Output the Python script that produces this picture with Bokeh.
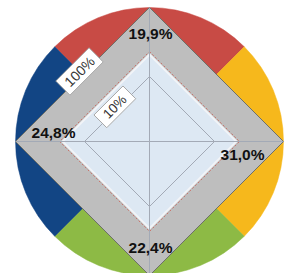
import math
from bokeh.plotting import figure
from bokeh.core.properties import value
from bokeh.embed import file_html
from bokeh.resources import INLINE

# ---- data ----
axis_angles_deg = [90, 0, 270, 180]          # top, right, bottom, left
shares = [19.9, 31.0, 22.4, 24.8]            # percent per axis
sector_colors = ["#C84B45", "#F6B81C", "#8DBA45", "#124584"]
scale_levels = [100, 10]                     # reference rings
scale_labels = ["100%", "10%"]

# ---- layout / style (not data) ----
R = 134.0                  # outer radius in px
ring_radius = {100: 134.0, 10: 65.0}
band_radius = 87.0         # light blue inner area
dash_radius = 90.0
label_radius = [108, 93, 106, 96]
label_dy = [0, -13, 0, 9]
label_dx = [1, 0, 1, 0]
scale_label_dist = {100: 99.0, 10: 49.0}
scale_box = {100: (47, 20), 10: (41, 18)}
scale_font = {100: "14px", 10: "13.5px"}

W, H = 287, 273
cx, cy = 149, 141   # center in canvas pixels
p = figure(width=W, height=H, output_backend="svg", toolbar_location=None,
           x_range=(-cx, W - cx), y_range=(-(H - cy), cy),
           min_border=0, outline_line_color=None,
           background_fill_color="white", border_fill_color="white")
p.axis.visible = False
p.grid.visible = False

# colored sectors
for a, col in zip(axis_angles_deg, sector_colors):
    p.wedge(x=0, y=0, radius=R,
            start_angle=math.radians(a - 45), end_angle=math.radians(a + 45),
            fill_color=col, line_color=col, line_width=0.5)

def diamond(r):
    xs = [r * math.cos(math.radians(a)) for a in axis_angles_deg]
    ys = [r * math.sin(math.radians(a)) for a in axis_angles_deg]
    return xs, ys

# grey outer diamond (100%)
xs, ys = diamond(ring_radius[100])
p.patch(xs, ys, fill_color="#BEBEBE", line_color="#6E7068", line_width=1)

# dashed red ring
xs, ys = diamond(dash_radius)
p.patch(xs, ys, fill_color=None, line_color="#C8766E", line_width=1, line_dash="2 2")

# light blue inner area
xs, ys = diamond(band_radius)
p.patch(xs, ys, fill_color="#DDE8F3", line_color="#F2F4F7", line_width=2)

# inner 10% ring
xs, ys = diamond(ring_radius[10])
p.patch(xs, ys, fill_color=None, line_color="#A3AAB6", line_width=1)

# axis cross lines
for a in axis_angles_deg:
    p.line([0, R * math.cos(math.radians(a))], [0, R * math.sin(math.radians(a))],
           line_color="#A3AAB6", line_width=1)

# value labels
lx, ly, lt = [], [], []
for a, v, r, dx, dy in zip(axis_angles_deg, shares, label_radius, label_dx, label_dy):
    lx.append(r * math.cos(math.radians(a)) + dx)
    ly.append(r * math.sin(math.radians(a)) + dy)
    lt.append(f"{v:.1f}".replace(".", ",") + "%")
p.text(x=lx, y=ly, text=lt, text_align="center", text_baseline="middle",
       text_font=value("Liberation Sans"), text_font_style="bold",
       text_font_size="15.5px", text_color="#111111")

# scale labels (boxes rotated along the upper-left diagonal)
for lev, lab in zip(scale_levels, scale_labels):
    d = scale_label_dist[lev]
    bx = d * math.cos(math.radians(135))
    by = d * math.sin(math.radians(135))
    w, h = scale_box[lev]
    p.rect(x=[bx], y=[by], width=w, height=h, angle=math.pi / 4,
           width_units="screen", height_units="screen",
           fill_color="white", line_color="#A8A8A8", line_width=1)
    p.text(x=[bx], y=[by], text=[lab], angle=math.pi / 4,
           text_align="center", text_baseline="middle",
           text_font=value("Liberation Sans"), text_font_size=scale_font[lev],
           text_color="#333333")

open("out.html", "w").write(file_html(p, INLINE))
